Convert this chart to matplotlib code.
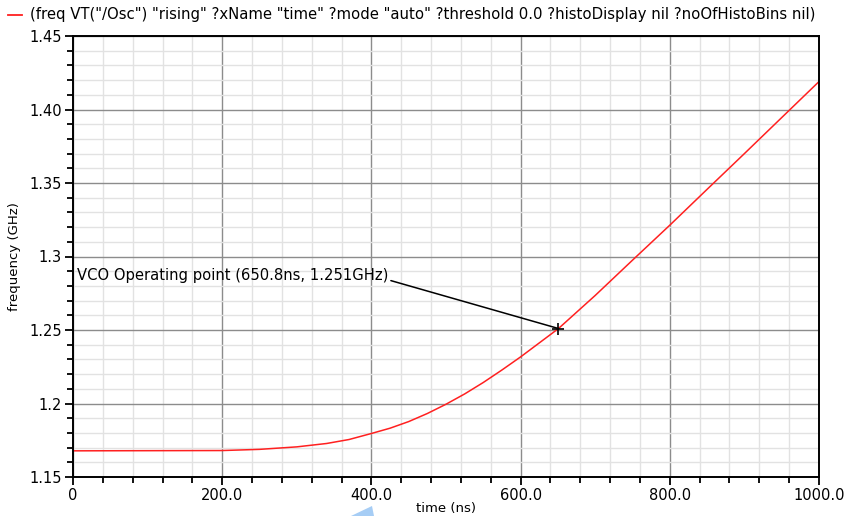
import matplotlib
matplotlib.use("Agg")
import matplotlib.pyplot as plt
from matplotlib.ticker import MultipleLocator
from matplotlib.patches import Polygon

# frequency vs time
time_ns = [0, 200, 250, 300, 340, 370, 400, 425, 450, 475, 500, 525, 550,
           575, 600, 650.8, 700, 750, 800, 850, 900, 950, 1000]
freq_ghz = [1.1678, 1.1680, 1.1688, 1.1705, 1.1728, 1.1755, 1.1796, 1.1832,
            1.1877, 1.1932, 1.1995, 1.2065, 1.2143, 1.2228, 1.2317, 1.251,
            1.2735, 1.2975, 1.3213, 1.3457, 1.3700, 1.3945, 1.4190]

op_t = 650.8
op_f = 1.251
op_label = "VCO Operating point (650.8ns, 1.251GHz)"

x_ticks = [0, 200, 400, 600, 800, 1000]
x_labels = ["0", "200.0", "400.0", "600.0", "800.0", "1000.0"]
y_ticks = [1.15, 1.2, 1.25, 1.3, 1.35, 1.4, 1.45]
y_labels = ["1.15", "1.2", "1.25", "1.3", "1.35", "1.40", "1.45"]

legend_text = ('(freq VT("/Osc") "rising" ?xName "time" ?mode "auto" '
               '?threshold 0.0 ?histoDisplay nil ?noOfHistoBins nil)')

W, H = 857, 516
fig = plt.figure(figsize=(W / 100, H / 100), dpi=100)
ax = fig.add_axes([73 / W, 1 - 477 / H, (819 - 73) / W, (477 - 36) / H])

ax.plot(time_ns, freq_ghz, color="#ff2020", linewidth=1.1)

ax.set_xlim(0, 1000)
ax.set_ylim(1.15, 1.45)
ax.set_xticks(x_ticks)
ax.set_xticklabels(x_labels)
ax.set_yticks(y_ticks)
ax.set_yticklabels(y_labels)
ax.xaxis.set_minor_locator(MultipleLocator(40))
ax.yaxis.set_minor_locator(MultipleLocator(0.01))

ax.grid(which="minor", color="#e2e2e2", linewidth=1.0)
ax.grid(which="major", color="#8c8c8c", linewidth=1.0)
ax.set_axisbelow(True)

for s in ax.spines.values():
    s.set_linewidth(1.4)
    s.set_color("black")
ax.tick_params(which="major", length=6, width=1.3, labelsize=10.5, pad=2)
ax.tick_params(which="minor", length=4, width=1.3)

ax.set_xlabel("time (ns)", fontsize=9.5, labelpad=-1)
ax.set_ylabel("frequency (GHz)", fontsize=9.5, labelpad=6)

# operating point marker + annotation
ax.plot([op_t], [op_f], marker="+", color="black", markersize=9, mew=1.2)
ax.annotate(op_label, xy=(op_t, op_f), xytext=(5, 1.2872),
            fontsize=10.6, ha="left", va="center",
            arrowprops=dict(arrowstyle="-", color="black", lw=1.1,
                            shrinkA=0, shrinkB=0, relpos=(1.0, 0.2)))

# legend line at the top
fig.add_artist(plt.Line2D([8 / W, 22 / W], [1 - 15 / H, 1 - 15 / H],
                          color="#ff2020", linewidth=1.3))
fig.text(30 / W, 1 - 15 / H, legend_text, fontsize=10.7, va="center", ha="left")

# small blue cursor artefact at the bottom
fig.add_artist(Polygon([[351 / W, 0], [372 / W, 1 - 506 / H], [374 / W, 0]],
                       closed=True, transform=fig.transFigure,
                       facecolor="#a6cdf5", edgecolor="none"))

fig.savefig("out.png", dpi=100)
